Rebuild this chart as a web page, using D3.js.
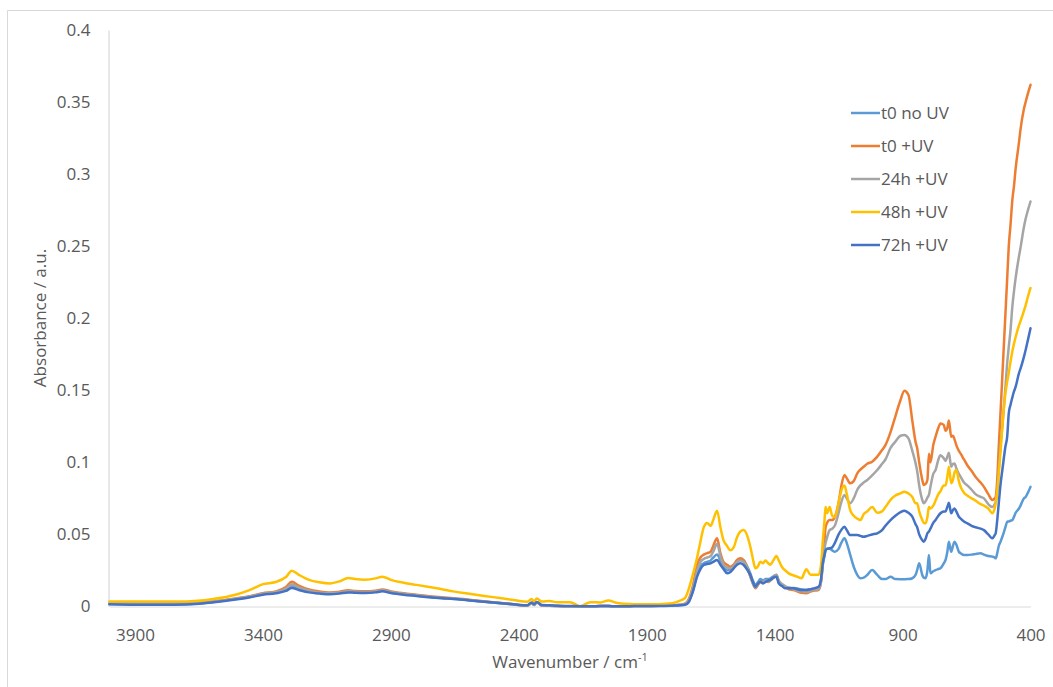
<!DOCTYPE html>
<html>
<head>
<meta charset="utf-8">
<script src="https://cdn.jsdelivr.net/npm/d3@7"></script>
<style>
  html, body { margin: 0; padding: 0; background: #fff; }
  svg { display: block; }
  text { font-family: "Open Sans", sans-serif; fill: #595959; }
</style>
</head>
<body>
<svg id="chart" width="1053" height="687"></svg>
<script>
// Wavenumber grid (cm-1), shared by all spectra
const wavenumbers = [
  4000,3900,3800,3700,3600,3500,3450,3400,3350,3310,
  3287,3260,3220,3180,3137,3100,3067,3040,3000,2960,
  2933,2900,2850,2800,2750,2700,2656,2600,2500,2420,
  2367,2350,2340,2330,2310,2280,2250,2200,2160,2120,
  2080,2050,2020,2000,1950,1900,1850,1800,1770,1750,
  1736,1720,1703,1690,1677,1664,1650,1640,1625,1612,
  1600,1586,1573,1560,1547,1534,1521,1505,1495,1485,
  1475,1465,1456,1445,1436,1425,1417,1405,1393,1384,
  1370,1358,1345,1325,1312,1295,1276,1260,1245,1228,
  1218,1212,1205,1201,1195,1185,1175,1165,1150,1140,
  1127,1118,1105,1091,1077,1065,1052,1038,1019,999,
  980,967,947,928,908,893,877,862,849,843,
  835,823,817,810,803,797,791,780,771,760,
  752,739,732,725,719,710,703,697,690,680,
  673,660,647,630,615,595,582,565,549,540,
  536,530,524,517,510,498,491,485,478,471,
  465,458,445,439,426,419,410,400
];

// Absorbance, t0 without UV
const t0NoUV = [
  0.0018,0.0016,0.0015,0.0017,0.0030,0.0053,0.0068,0.0086,0.0098,0.0120,
  0.0145,0.0125,0.0105,0.0095,0.0090,0.0095,0.0103,0.0100,0.0098,0.0102,
  0.0110,0.0098,0.0086,0.0076,0.0066,0.0059,0.0054,0.0045,0.0028,0.0015,
  0.0006,0.0024,0.0012,0.0030,0.0008,0.0006,0.0004,0.0002,0.0002,0.0002,
  0.0003,0.0003,0.0002,0.0002,0.0003,0.0004,0.0005,0.0008,0.0010,0.0015,
  0.0035,0.0110,0.0220,0.0280,0.0300,0.0310,0.0320,0.0340,0.0360,0.0320,
  0.0280,0.0250,0.0260,0.0280,0.0310,0.0330,0.0320,0.0270,0.0230,0.0180,
  0.0150,0.0170,0.0190,0.0180,0.0190,0.0190,0.0195,0.0210,0.0219,0.0170,
  0.0150,0.0135,0.0130,0.0128,0.0125,0.0118,0.0115,0.0120,0.0125,0.0130,
  0.0190,0.0290,0.0350,0.0390,0.0400,0.0400,0.0390,0.0380,0.0400,0.0440,
  0.0473,0.0440,0.0360,0.0276,0.0220,0.0196,0.0200,0.0219,0.0253,0.0219,
  0.0190,0.0190,0.0207,0.0190,0.0189,0.0189,0.0190,0.0196,0.0220,0.0253,
  0.0300,0.0219,0.0200,0.0196,0.0250,0.0357,0.0230,0.0245,0.0253,0.0260,
  0.0265,0.0300,0.0323,0.0380,0.0450,0.0380,0.0420,0.0450,0.0430,0.0380,
  0.0370,0.0357,0.0357,0.0360,0.0365,0.0370,0.0360,0.0350,0.0346,0.0340,
  0.0334,0.0370,0.0420,0.0450,0.0484,0.0550,0.0588,0.0590,0.0595,0.0600,
  0.0620,0.0650,0.0680,0.0700,0.0750,0.0760,0.0790,0.0830
];

// Absorbance, t0 with UV
const t0UV = [
  0.0020,0.0020,0.0020,0.0022,0.0035,0.0058,0.0072,0.0092,0.0105,0.0135,
  0.0172,0.0145,0.0118,0.0105,0.0098,0.0103,0.0112,0.0108,0.0105,0.0110,
  0.0118,0.0105,0.0092,0.0082,0.0072,0.0064,0.0058,0.0048,0.0030,0.0015,
  0.0005,0.0025,0.0012,0.0030,0.0008,0.0006,0.0004,0.0002,0.0002,0.0002,
  0.0003,0.0003,0.0002,0.0002,0.0003,0.0004,0.0005,0.0008,0.0012,0.0020,
  0.0050,0.0140,0.0290,0.0340,0.0360,0.0370,0.0380,0.0420,0.0473,0.0370,
  0.0310,0.0290,0.0275,0.0290,0.0323,0.0334,0.0320,0.0260,0.0207,0.0160,
  0.0126,0.0150,0.0172,0.0165,0.0172,0.0170,0.0180,0.0200,0.0219,0.0172,
  0.0150,0.0137,0.0120,0.0114,0.0105,0.0095,0.0092,0.0103,0.0110,0.0114,
  0.0180,0.0320,0.0460,0.0550,0.0580,0.0600,0.0600,0.0620,0.0720,0.0830,
  0.0912,0.0890,0.0855,0.0870,0.0924,0.0950,0.0970,0.0990,0.1005,0.1040,
  0.1086,0.1120,0.1210,0.1320,0.1433,0.1497,0.1467,0.1290,0.1140,0.1100,
  0.1000,0.0880,0.0843,0.0850,0.0878,0.1060,0.1000,0.1120,0.1178,0.1240,
  0.1270,0.1260,0.1220,0.1240,0.1290,0.1178,0.1185,0.1160,0.1120,0.1080,
  0.1060,0.1020,0.0980,0.0940,0.0900,0.0860,0.0830,0.0780,0.0739,0.0750,
  0.0760,0.0880,0.1110,0.1350,0.1600,0.2030,0.2280,0.2497,0.2650,0.2820,
  0.2910,0.3040,0.3220,0.3310,0.3450,0.3500,0.3560,0.3620
];

// Absorbance, 24 h with UV
const h24UV = [
  0.0020,0.0020,0.0018,0.0020,0.0033,0.0055,0.0070,0.0088,0.0100,0.0125,
  0.0155,0.0132,0.0110,0.0098,0.0092,0.0097,0.0105,0.0102,0.0100,0.0105,
  0.0112,0.0100,0.0088,0.0078,0.0068,0.0060,0.0055,0.0045,0.0028,0.0014,
  0.0006,0.0022,0.0010,0.0028,0.0008,0.0006,0.0004,0.0002,0.0002,0.0002,
  0.0003,0.0003,0.0002,0.0002,0.0003,0.0004,0.0005,0.0008,0.0010,0.0018,
  0.0040,0.0120,0.0250,0.0310,0.0330,0.0340,0.0350,0.0380,0.0435,0.0350,
  0.0290,0.0270,0.0265,0.0280,0.0310,0.0320,0.0310,0.0260,0.0210,0.0160,
  0.0130,0.0155,0.0170,0.0170,0.0180,0.0175,0.0180,0.0200,0.0220,0.0180,
  0.0155,0.0140,0.0130,0.0120,0.0110,0.0105,0.0100,0.0110,0.0115,0.0120,
  0.0180,0.0280,0.0400,0.0440,0.0480,0.0530,0.0540,0.0560,0.0650,0.0720,
  0.0774,0.0750,0.0716,0.0750,0.0810,0.0840,0.0860,0.0878,0.0910,0.0947,
  0.0990,0.1020,0.1100,0.1144,0.1185,0.1190,0.1167,0.1080,0.0993,0.0940,
  0.0840,0.0740,0.0716,0.0730,0.0755,0.0774,0.0830,0.0920,0.0947,0.1020,
  0.1050,0.1028,0.1010,0.1040,0.1067,0.0970,0.0990,0.0993,0.0960,0.0920,
  0.0900,0.0860,0.0840,0.0810,0.0780,0.0760,0.0750,0.0710,0.0690,0.0710,
  0.0727,0.0800,0.0950,0.1120,0.1250,0.1520,0.1690,0.1800,0.1920,0.2080,
  0.2180,0.2280,0.2430,0.2490,0.2630,0.2690,0.2750,0.2810
];

// Absorbance, 48 h with UV
const h48UV = [
  0.0035,0.0035,0.0035,0.0035,0.0050,0.0085,0.0115,0.0155,0.0170,0.0205,
  0.0248,0.0220,0.0185,0.0168,0.0160,0.0175,0.0198,0.0190,0.0186,0.0195,
  0.0207,0.0185,0.0165,0.0150,0.0135,0.0120,0.0105,0.0090,0.0065,0.0045,
  0.0033,0.0052,0.0036,0.0056,0.0034,0.0038,0.0030,0.0030,0.0002,0.0030,
  0.0028,0.0042,0.0026,0.0020,0.0016,0.0015,0.0016,0.0022,0.0040,0.0060,
  0.0120,0.0220,0.0340,0.0450,0.0550,0.0580,0.0560,0.0600,0.0665,0.0550,
  0.0460,0.0420,0.0390,0.0410,0.0480,0.0520,0.0530,0.0480,0.0415,0.0330,
  0.0265,0.0280,0.0310,0.0300,0.0320,0.0300,0.0290,0.0320,0.0350,0.0320,
  0.0270,0.0250,0.0230,0.0215,0.0207,0.0196,0.0258,0.0220,0.0220,0.0220,
  0.0300,0.0450,0.0600,0.0690,0.0647,0.0690,0.0630,0.0620,0.0720,0.0800,
  0.0840,0.0780,0.0670,0.0630,0.0610,0.0600,0.0640,0.0660,0.0690,0.0650,
  0.0660,0.0690,0.0740,0.0770,0.0785,0.0797,0.0785,0.0760,0.0716,0.0716,
  0.0660,0.0600,0.0580,0.0577,0.0620,0.0690,0.0680,0.0700,0.0735,0.0780,
  0.0800,0.0840,0.0840,0.0900,0.0970,0.0855,0.0880,0.0930,0.0947,0.0870,
  0.0830,0.0790,0.0770,0.0750,0.0735,0.0710,0.0700,0.0680,0.0647,0.0680,
  0.0716,0.0800,0.0920,0.1080,0.1250,0.1480,0.1560,0.1620,0.1700,0.1770,
  0.1820,0.1870,0.1950,0.1980,0.2050,0.2090,0.2150,0.2210
];

// Absorbance, 72 h with UV
const h72UV = [
  0.0015,0.0012,0.0012,0.0014,0.0028,0.0050,0.0064,0.0082,0.0092,0.0108,
  0.0128,0.0115,0.0098,0.0090,0.0085,0.0090,0.0098,0.0095,0.0093,0.0098,
  0.0105,0.0094,0.0082,0.0073,0.0064,0.0057,0.0052,0.0043,0.0027,0.0015,
  0.0008,0.0028,0.0015,0.0032,0.0010,0.0008,0.0005,0.0003,0.0002,0.0002,
  0.0003,0.0003,0.0002,0.0002,0.0003,0.0004,0.0004,0.0006,0.0008,0.0012,
  0.0030,0.0100,0.0207,0.0260,0.0288,0.0295,0.0300,0.0310,0.0323,0.0290,
  0.0260,0.0230,0.0240,0.0265,0.0290,0.0300,0.0288,0.0250,0.0219,0.0170,
  0.0137,0.0160,0.0172,0.0160,0.0170,0.0180,0.0184,0.0200,0.0207,0.0160,
  0.0140,0.0126,0.0126,0.0126,0.0120,0.0114,0.0114,0.0120,0.0126,0.0137,
  0.0200,0.0300,0.0360,0.0390,0.0400,0.0404,0.0410,0.0440,0.0500,0.0530,
  0.0554,0.0530,0.0496,0.0496,0.0496,0.0490,0.0484,0.0490,0.0500,0.0508,
  0.0530,0.0560,0.0600,0.0630,0.0655,0.0665,0.0650,0.0623,0.0570,0.0550,
  0.0500,0.0460,0.0450,0.0470,0.0508,0.0520,0.0540,0.0580,0.0600,0.0630,
  0.0647,0.0660,0.0660,0.0690,0.0720,0.0647,0.0670,0.0680,0.0660,0.0623,
  0.0610,0.0590,0.0577,0.0560,0.0550,0.0540,0.0530,0.0500,0.0473,0.0495,
  0.0508,0.0600,0.0716,0.0850,0.0947,0.1110,0.1180,0.1340,0.1400,0.1450,
  0.1490,0.1525,0.1620,0.1650,0.1730,0.1780,0.1850,0.1930
];

const seriesNames = ["t0 no UV", "t0 +UV", "24h +UV", "48h +UV", "72h +UV"];
const seriesColors = ["#5B9BD5", "#ED7D31", "#A5A5A5", "#FFC000", "#4472C4"];
const seriesValues = [t0NoUV, t0UV, h24UV, h48UV, h72UV];

const xTicks = [3900, 3400, 2900, 2400, 1900, 1400, 900, 400];
const yTicks = [0, 0.05, 0.1, 0.15, 0.2, 0.25, 0.3, 0.35, 0.4];
const yTickLabels = ["0", "0.05", "0.1", "0.15", "0.2", "0.25", "0.3", "0.35", "0.4"];

const svg = d3.select("#chart");
const W = 1053, H = 687;

svg.append("rect").attr("width", W).attr("height", H).attr("fill", "#fff");
// chart area frame (top and left edges)
svg.append("path")
  .attr("d", `M7.5,${H} V10.5 H${W}`)
  .attr("fill", "none").attr("stroke", "#d9d9d9").attr("stroke-width", 1);

const x = d3.scaleLinear().domain([4000, 400]).range([109.4, 1030.5]);
const y = d3.scaleLinear().domain([0, 0.4]).range([606.5, 30]);

// y axis
const yAxis = svg.append("g")
  .attr("transform", "translate(108.5,0)")
  .call(d3.axisLeft(y).tickValues(yTicks).tickSize(0).tickSizeOuter(0).tickPadding(18)
    .tickFormat((d, i) => yTickLabels[i]));
yAxis.select(".domain").attr("stroke", "#d9d9d9").attr("stroke-width", 1.2);
yAxis.selectAll("text").style("font-family", "'Open Sans', sans-serif")
  .style("font-size", "17px").attr("fill", "#595959");

// x axis (zero line)
const xAxis = svg.append("g")
  .attr("transform", `translate(0,${y(0)})`)
  .call(d3.axisBottom(x).tickValues(xTicks).tickSize(0).tickSizeOuter(0).tickPadding(22)
    .tickFormat(d3.format("d")));
xAxis.select(".domain").attr("stroke", "#d9d9d9").attr("stroke-width", 1.2);
xAxis.selectAll("text").style("font-family", "'Open Sans', sans-serif")
  .style("font-size", "17px").attr("fill", "#595959");

// spectra
const line = d3.line()
  .x((d, i) => x(wavenumbers[i]))
  .y(d => y(d))
  .curve(d3.curveMonotoneX);

svg.append("g").selectAll("path")
  .data(seriesValues)
  .join("path")
  .attr("d", line)
  .attr("fill", "none")
  .attr("stroke", (d, i) => seriesColors[i])
  .attr("stroke-width", 2.5)
  .attr("stroke-linejoin", "round")
  .attr("stroke-linecap", "round");

// axis titles
svg.append("text")
  .attr("transform", "translate(46,318) rotate(-90)")
  .attr("text-anchor", "middle")
  .style("font-size", "17px")
  .text("Absorbance / a.u.");

const xt = svg.append("text")
  .attr("x", 570).attr("y", 668)
  .attr("text-anchor", "middle")
  .style("font-size", "17px");
xt.append("tspan").text("Wavenumber / cm");
xt.append("tspan").attr("dy", -7).style("font-size", "11px").text("-1");

// legend
const legend = svg.append("g").attr("transform", "translate(851,113)");
const items = legend.selectAll("g").data(seriesNames).join("g")
  .attr("transform", (d, i) => `translate(0,${i * 33})`);
items.append("line")
  .attr("x1", 0).attr("x2", 29).attr("y1", 0).attr("y2", 0)
  .attr("stroke", (d, i) => seriesColors[i]).attr("stroke-width", 2.5);
items.append("text")
  .attr("x", 30).attr("dy", "0.35em")
  .style("font-size", "17px")
  .text(d => d);
</script>
</body>
</html>
